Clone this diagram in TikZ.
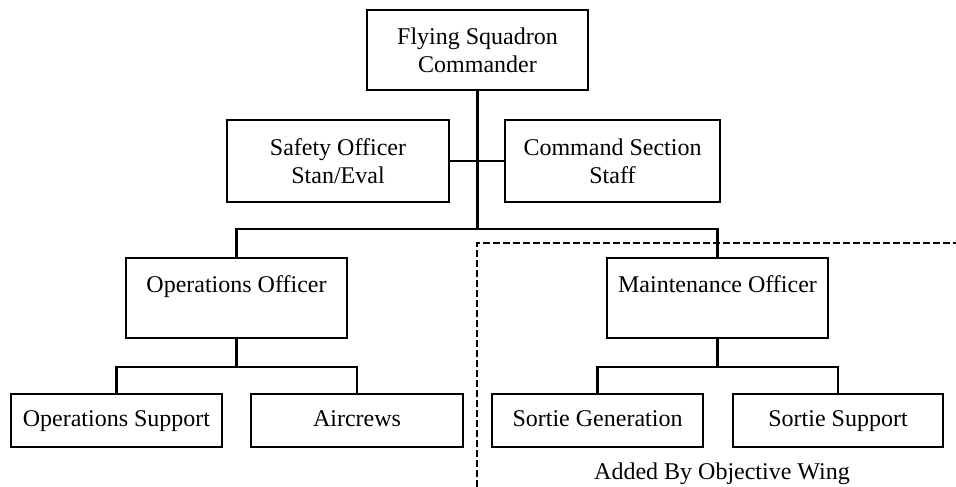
\documentclass[tikz,border=0pt]{standalone}
\usepackage{fontspec}
\setmainfont{Liberation Serif}
\begin{document}
\begin{tikzpicture}[x=1pt,y=-1pt,
  box/.style={draw, line width=2.4pt, inner sep=0pt, align=center,
    font=\fontsize{24}{28}\selectfont},
  onebox/.style={box, text height=16pt, text depth=5pt},
  conn/.style={line width=2.4pt},
  wingline/.style={line width=2.2pt, dash pattern=on 7pt off 3pt},
  lbl/.style={font=\fontsize{24}{28}\selectfont, inner sep=0pt}]
\useasboundingbox (0,0) rectangle (956,487);
\node[box, minimum width=221pt, minimum height=80pt] (cmdr) at (477.5,50) {Flying Squadron\\Commander};
\node[box, minimum width=222pt, minimum height=82pt] (safety) at (338,161) {Safety Officer\\Stan/Eval};
\node[box, minimum width=215pt, minimum height=82pt] (staff) at (612.5,161) {Command Section\\Staff};
\node[box, minimum width=221pt, minimum height=80pt] (ops) at (236.5,298) {Operations Officer\\\mbox{}};
\node[box, minimum width=221pt, minimum height=80pt] (mx) at (717.5,298) {Maintenance Officer\\\mbox{}};
\node[onebox, minimum width=211pt, minimum height=53pt] (opsup) at (116.5,420.5) {Operations Support};
\node[onebox, minimum width=212pt, minimum height=53pt] (air) at (357,420.5) {Aircrews};
\node[onebox, minimum width=211pt, minimum height=53pt] (sgen) at (597.5,420.5) {Sortie Generation};
\node[onebox, minimum width=210pt, minimum height=53pt] (ssup) at (838,420.5) {Sortie Support};
\node[lbl] (wing) at (722,474) {Added By Objective Wing};
\coordinate (bar) at (477.5,229);
\coordinate (j1) at (236.5,367);
\coordinate (j2) at (717.5,367);
\coordinate (dashbot) at (477,487);
\coordinate (dashcorner) at (477,243);
\coordinate (dashend) at (956,243);
\draw[conn] (cmdr.south) -- (bar);
\draw[conn] (safety.east) -- (staff.west);
\draw[conn] (ops.north) |- (bar) -| (mx.north);
\draw[conn] (ops.south) -- (j1);
\draw[conn] (opsup.north) |- (j1) -| (air.north);
\draw[conn] (mx.south) -- (j2);
\draw[conn] (sgen.north) |- (j2) -| (ssup.north);
\draw[wingline] (dashbot) -- (dashcorner) -- (dashend);
\end{tikzpicture}
\end{document}
